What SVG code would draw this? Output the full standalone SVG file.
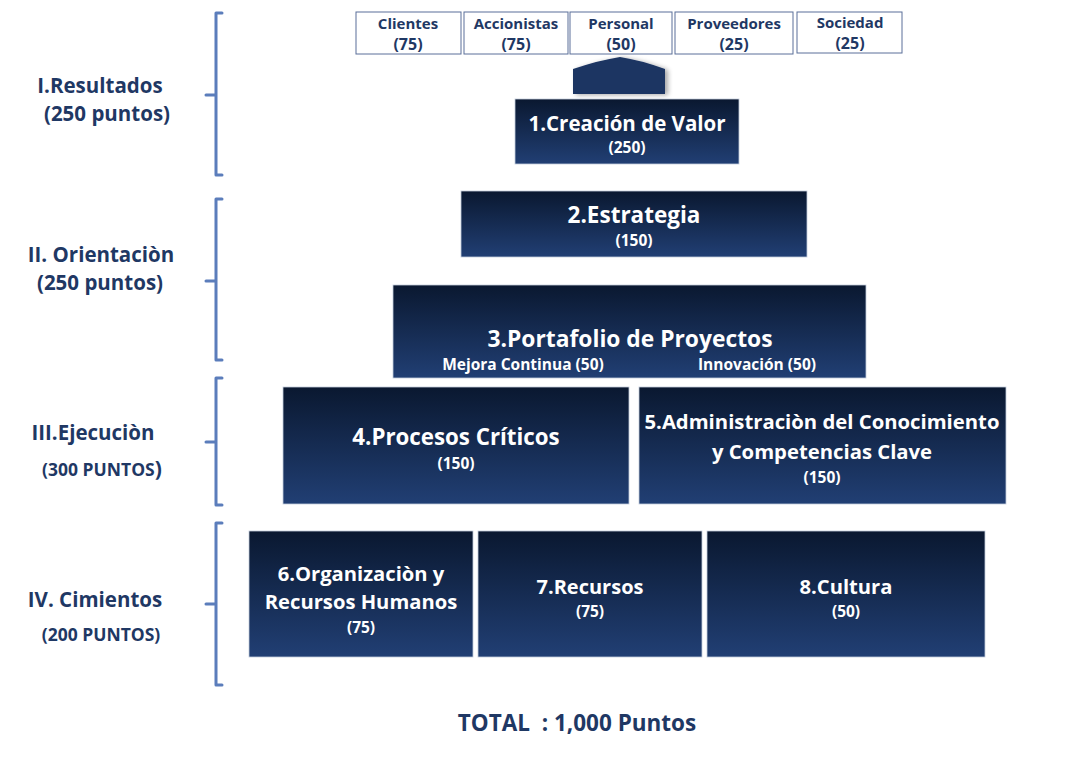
<svg xmlns="http://www.w3.org/2000/svg" width="1078" height="765" viewBox="0 0 1078 765">
<defs>
<linearGradient id="g" x1="0" y1="0" x2="0" y2="1">
<stop offset="0" stop-color="#0a1830"/>
<stop offset="1" stop-color="#213f74"/>
</linearGradient>
<filter id="sh" x="-20%" y="-20%" width="150%" height="150%">
<feGaussianBlur in="SourceAlpha" stdDeviation="2.5"/>
<feOffset dx="3" dy="1"/>
<feComponentTransfer><feFuncA type="linear" slope="0.35"/></feComponentTransfer>
<feMerge><feMergeNode/><feMergeNode in="SourceGraphic"/></feMerge>
</filter>
<style>
text{font-family:"Open Sans","Liberation Sans",sans-serif;font-weight:bold;text-anchor:middle;white-space:pre}
.box{fill:url(#g);stroke:#c4cedd;stroke-width:0.8}
.t{fill:#ffffff}
.sm{fill:#ffffff;font-size:15.5px}
.wb{fill:#ffffff;stroke:#5a6f99;stroke-width:1}
.wt{fill:#1f3864;font-size:15px}
.wn{fill:#1f3864;font-size:16px}
.lab{fill:#1f3864;font-size:20.5px}
.br{fill:none;stroke:#5b7dbb;stroke-width:3;stroke-linejoin:round;stroke-linecap:round}
</style>
</defs>
<rect width="1078" height="765" fill="#ffffff"/>

<g id="brackets">
<path class="br" d="M222,13 H216 V175 H222 M216,95 H206"/>
<path class="br" d="M222,199 H216 V360 H222 M216,281 H206"/>
<path class="br" d="M222,378 H216 V505 H222 M216,442 H206"/>
<path class="br" d="M222,523 H216 V685 H222 M216,604 H206"/>
</g>

<g id="labels">
<text class="lab" x="100" y="93">I.Resultados</text>
<text class="lab" x="107" y="121">(250 puntos)</text>
<text class="lab" x="101" y="262">II. Orientaciòn</text>
<text class="lab" x="100" y="290">(250 puntos)</text>
<text class="lab" x="93" y="440">III.Ejecuciòn</text>
<text class="lab" x="102" y="476" style="font-size:17.5px">(300 PUNTOS<tspan style="font-size:21px">)</tspan></text>
<text class="lab" x="95" y="607">IV. Cimientos</text>
<text class="lab" x="101" y="641" style="font-size:17.5px">(200 PUNTOS)</text>
</g>

<g id="stakeholders">
<g id="clientes"><rect class="wb" x="356" y="12" width="105" height="42"/><text class="wt" x="408" y="29">Clientes</text><text class="wn" x="408" y="50">(75)</text></g>
<g id="accionistas"><rect class="wb" x="464" y="12" width="104" height="42"/><text class="wt" x="516" y="29">Accionistas</text><text class="wn" x="516" y="50">(75)</text></g>
<g id="personal"><rect class="wb" x="570" y="12" width="102" height="42"/><text class="wt" x="621" y="29">Personal</text><text class="wn" x="621" y="50">(50)</text></g>
<g id="proveedores"><rect class="wb" x="675" y="12" width="118" height="42"/><text class="wt" x="734" y="29">Proveedores</text><text class="wn" x="734" y="50">(25)</text></g>
<g id="sociedad"><rect class="wb" x="797" y="12" width="105" height="41"/><text class="wt" x="850" y="28">Sociedad</text><text class="wn" x="850" y="49">(25)</text></g>
</g>

<g id="connectors">
<path d="M573,69 Q600,60 620,57 Q640,60 665,69 V94 H573 Z" fill="#1b3462" filter="url(#sh)"/>
</g>

<g id="n1"><rect class="box" x="515" y="99" width="224" height="65"/><text class="t" x="627" y="131" style="font-size:20.5px">1.Creación de Valor</text><text class="sm" x="627" y="153">(250)</text></g>
<g id="n2"><rect class="box" x="461" y="191" width="346" height="66"/><text class="t" x="634" y="223" style="font-size:22.5px">2.Estrategia</text><text class="sm" x="634" y="246">(150)</text></g>
<g id="n3"><rect class="box" x="393" y="285" width="473" height="93"/><text class="t" x="630" y="347" style="font-size:22.8px">3.Portafolio de Proyectos</text><text class="sm" x="523" y="370">Mejora Continua (50)</text><text class="sm" x="757" y="370">Innovación (50)</text></g>
<g id="n4"><rect class="box" x="283" y="387" width="346" height="117"/><text class="t" x="456" y="445" style="font-size:22.3px">4.Procesos Críticos</text><text class="sm" x="456" y="469">(150)</text></g>
<g id="n5"><rect class="box" x="639" y="387" width="367" height="117"/><text class="t" x="822" y="429" style="font-size:20.3px">5.Administraciòn del Conocimiento</text><text class="t" x="822" y="459" style="font-size:20.3px">y Competencias Clave</text><text class="sm" x="822" y="483">(150)</text></g>
<g id="n6"><rect class="box" x="249" y="531" width="224" height="126"/><text class="t" x="361" y="581" style="font-size:20.2px">6.Organizaciòn y</text><text class="t" x="361" y="609" style="font-size:20.2px">Recursos Humanos</text><text class="sm" x="361" y="633">(75)</text></g>
<g id="n7"><rect class="box" x="478" y="531" width="224" height="126"/><text class="t" x="590" y="594" style="font-size:20px">7.Recursos</text><text class="sm" x="590" y="617">(75)</text></g>
<g id="n8"><rect class="box" x="707" y="531" width="278" height="126"/><text class="t" x="846" y="594" style="font-size:20.2px">8.Cultura</text><text class="sm" x="846" y="617">(50)</text></g>

<text x="577" y="731" style="fill:#1f3864;font-size:22.5px">TOTAL  : 1,000 Puntos</text>
</svg>
